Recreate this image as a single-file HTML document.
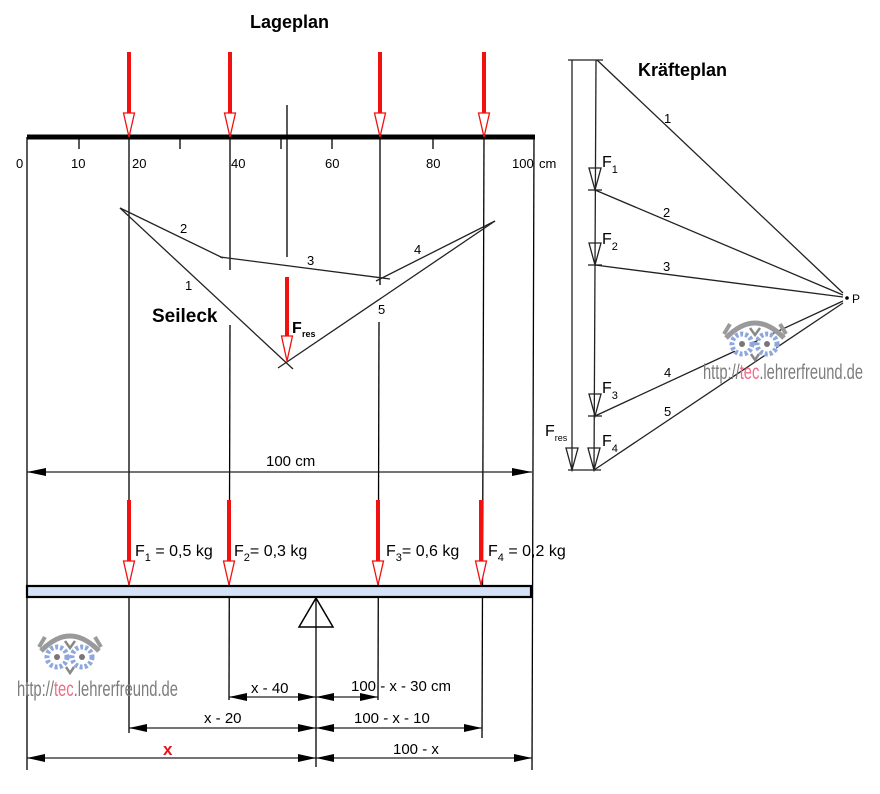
<!DOCTYPE html>
<html><head><meta charset="utf-8"><style>
html,body{margin:0;padding:0;background:#fff;}
svg{display:block;font-family:"Liberation Sans",Arial,sans-serif;}
</style></head><body>
<svg width="880" height="794" viewBox="0 0 880 794" xmlns="http://www.w3.org/2000/svg">
<defs>
<g id="owl">
  <path d="M4,24 Q33,-6 62,24" fill="none" stroke="#9a9a9a" stroke-width="5"/>
  <path d="M2,20 L8,10 M64,20 L58,10" stroke="#9a9a9a" stroke-width="4"/>
  <circle cx="20" cy="30" r="10" fill="#fff" stroke="#8ea8dc" stroke-width="5" stroke-dasharray="3 2"/>
  <circle cx="45" cy="30" r="10" fill="#fff" stroke="#8ea8dc" stroke-width="5" stroke-dasharray="3 2"/>
  <circle cx="20" cy="30" r="3" fill="#777"/>
  <circle cx="45" cy="30" r="3" fill="#777"/>
  <path d="M28,14 L33,21 L38,14" fill="none" stroke="#888" stroke-width="2.5"/>
  <path d="M29,40 L33,46 L37,40" fill="none" stroke="#888" stroke-width="2.5"/>
</g>
<g id="rarr">
  <rect x="-2" y="0" width="4" height="62" fill="#f21010"/>
  <polygon points="-5.5,61 5.5,61 0,85" fill="#fff" stroke="#f21010" stroke-width="1.3"/>
</g>
</defs>

<!-- titles -->
<text x="250" y="28" font-size="18" font-weight="bold">Lageplan</text>
<text x="638" y="76" font-size="18" font-weight="bold">Kräfteplan</text>

<!-- Lageplan beam top -->
<rect x="27" y="134.5" width="508" height="5" fill="#000"/>
<g stroke="#000" stroke-width="1.3">
  <line x1="79" y1="137" x2="79" y2="149"/>
  <line x1="180" y1="137" x2="180" y2="149"/>
  <line x1="281" y1="137" x2="281" y2="149"/>
  <line x1="332" y1="137" x2="332" y2="149"/>
  <line x1="433" y1="137" x2="433" y2="149"/>
  <!-- vertical lines -->
  <line x1="27" y1="137" x2="27" y2="770"/>
  <line x1="129" y1="137" x2="129" y2="733"/>
  <line x1="230" y1="137" x2="230" y2="270"/>
  <line x1="230" y1="325" x2="229" y2="700"/>
  <line x1="380" y1="137" x2="380" y2="285"/>
  <line x1="379" y1="322" x2="378" y2="700"/>
  <line x1="484" y1="137" x2="482" y2="738"/>
  <line x1="534" y1="137" x2="532" y2="770"/>
  <line x1="287" y1="105" x2="287" y2="257"/>
</g>
<g font-size="13">
  <text x="16" y="168">0</text>
  <text x="71" y="168">10</text>
  <text x="132" y="168">20</text>
  <text x="231" y="168">40</text>
  <text x="325" y="168">60</text>
  <text x="426" y="168">80</text>
  <text x="512" y="168">100</text>
  <text x="539" y="168">cm</text>
</g>
<use href="#rarr" x="129" y="52"/>
<use href="#rarr" x="230" y="52"/>
<use href="#rarr" x="380" y="52"/>
<use href="#rarr" x="484" y="52"/>

<!-- Seileck -->
<g stroke="#222" stroke-width="1.3" fill="none">
  <line x1="120" y1="208" x2="223" y2="258"/>
  <line x1="220" y1="257" x2="390" y2="279"/>
  <line x1="376" y1="281" x2="495" y2="221"/>
  <line x1="120" y1="208" x2="293" y2="369"/>
  <line x1="278" y1="368" x2="495" y2="221"/>
</g>
<g font-size="13">
  <text x="180" y="233">2</text>
  <text x="307" y="265">3</text>
  <text x="414" y="254">4</text>
  <text x="185" y="290">1</text>
  <text x="378" y="314">5</text>
</g>
<text x="152" y="322" font-size="19" font-weight="bold">Seileck</text>
<rect x="285" y="277" width="4" height="60" fill="#f21010"/>
<polygon points="281.5,336 292.5,336 287,361" fill="#fff" stroke="#f21010" stroke-width="1.3"/>
<text x="292" y="333" font-size="16" font-weight="bold">F</text>
<text x="302" y="337" font-size="9" font-weight="bold">res</text>

<!-- 100 cm dim -->
<line x1="27" y1="472" x2="532" y2="472" stroke="#222" stroke-width="1.3"/>
<polygon points="27,472 46,468 46,476" fill="#000"/>
<polygon points="532,472 512,468 512,476" fill="#000"/>
<text x="266" y="466" font-size="15">100 cm</text>

<!-- lower forces -->
<use href="#rarr" x="129" y="500"/>
<use href="#rarr" x="229" y="500"/>
<use href="#rarr" x="378" y="500"/>
<use href="#rarr" x="481" y="500"/>
<g font-size="16">
  <text x="135" y="556">F<tspan font-size="11" dy="5">1</tspan><tspan dy="-5"> = 0,5 kg</tspan></text>
  <text x="234" y="556">F<tspan font-size="11" dy="5">2</tspan><tspan dy="-5">= 0,3 kg</tspan></text>
  <text x="386" y="556">F<tspan font-size="11" dy="5">3</tspan><tspan dy="-5">= 0,6 kg</tspan></text>
  <text x="488" y="556">F<tspan font-size="11" dy="5">4</tspan><tspan dy="-5"> = 0,2 kg</tspan></text>
</g>
<rect x="27" y="586" width="504" height="11" fill="#d3e2f6" stroke="#000" stroke-width="2.2"/>
<polygon points="316,598 299,627 333,627" fill="#fff" stroke="#000" stroke-width="1.5"/>
<line x1="316" y1="598" x2="316" y2="767" stroke="#000" stroke-width="1.3"/>

<!-- bottom dims -->
<g stroke="#222" stroke-width="1.3">
  <line x1="229" y1="697" x2="378" y2="697"/>
  <line x1="129" y1="728" x2="482" y2="728"/>
  <line x1="27" y1="758" x2="532" y2="758"/>
</g>
<g fill="#000">
  <polygon points="229,697 247,693 247,701"/>
  <polygon points="316,697 298,693 298,701"/>
  <polygon points="316,697 334,693 334,701"/>
  <polygon points="378,697 360,693 360,701"/>
  <polygon points="129,728 147,724 147,732"/>
  <polygon points="316,728 298,724 298,732"/>
  <polygon points="316,728 334,724 334,732"/>
  <polygon points="482,728 464,724 464,732"/>
  <polygon points="27,758 45,754 45,762"/>
  <polygon points="316,758 298,754 298,762"/>
  <polygon points="316,758 334,754 334,762"/>
  <polygon points="532,758 514,754 514,762"/>
</g>
<g font-size="15">
  <text x="251" y="693">x - 40</text>
  <text x="351" y="691">100 - x - 30 cm</text>
  <text x="204" y="723">x - 20</text>
  <text x="354" y="723">100 - x - 10</text>
  <text x="393" y="754">100 - x</text>
</g>
<text x="163" y="755" font-size="17" font-weight="bold" fill="#e8141c">x</text>

<!-- Kräfteplan -->
<g stroke="#222" stroke-width="1.3" fill="none">
  <line x1="568" y1="60" x2="603" y2="60"/>
  <line x1="568" y1="470" x2="601" y2="470"/>
  <line x1="572" y1="60" x2="572" y2="470"/>
  <line x1="596" y1="60" x2="594" y2="470"/>
  <line x1="588" y1="190" x2="602" y2="190"/>
  <line x1="588" y1="265" x2="602" y2="265"/>
  <line x1="588" y1="416" x2="602" y2="416"/>
  <line x1="597" y1="60" x2="843" y2="293"/>
  <line x1="595" y1="190" x2="843" y2="295"/>
  <line x1="595" y1="265" x2="843" y2="297"/>
  <line x1="595" y1="416" x2="843" y2="301"/>
  <line x1="594" y1="470" x2="843" y2="303"/>
  <polygon points="589,168 601,168 595,190"/>
  <polygon points="589,243 601,243 595,265"/>
  <polygon points="589,394 601,394 595,416"/>
  <polygon points="588,448 600,448 594,470"/>
  <polygon points="566,448 578,448 572,470"/>
</g>
<circle cx="847" cy="298" r="1.8" fill="#000"/>
<text x="852" y="303" font-size="12">P</text>
<g font-size="13">
  <text x="664" y="123">1</text>
  <text x="663" y="217">2</text>
  <text x="663" y="271">3</text>
  <text x="664" y="377">4</text>
  <text x="664" y="416">5</text>
</g>
<g font-size="16">
  <text x="602" y="167">F<tspan font-size="11" dy="6">1</tspan></text>
  <text x="602" y="244">F<tspan font-size="11" dy="6">2</tspan></text>
  <text x="602" y="393">F<tspan font-size="11" dy="6">3</tspan></text>
  <text x="602" y="446">F<tspan font-size="11" dy="6">4</tspan></text>
  <text x="545" y="436">F<tspan font-size="9" dy="5">res</tspan></text>
</g>

<!-- watermarks -->
<use href="#owl" x="37" y="627"/>
<text x="17" y="696" font-size="21" fill="#7d7d7d" textLength="161" lengthAdjust="spacingAndGlyphs">http://<tspan fill="#f06b88">tec</tspan>.lehrerfreund.de</text>
<use href="#owl" x="722" y="314"/>
<text x="703" y="379" font-size="21" fill="#7d7d7d" textLength="160" lengthAdjust="spacingAndGlyphs">http://<tspan fill="#f06b88">tec</tspan>.lehrerfreund.de</text>
</svg>
</body></html>
